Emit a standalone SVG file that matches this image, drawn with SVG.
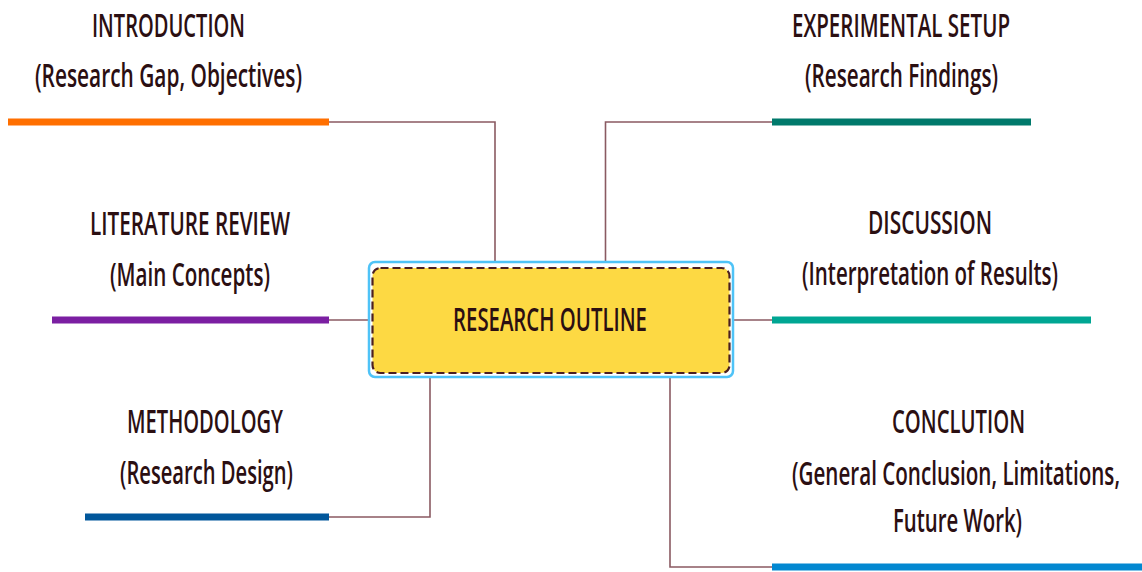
<svg xmlns="http://www.w3.org/2000/svg" width="1142" height="572" viewBox="0 0 1142 572">
  <style>
    .t { font-family: "Open Sans", "Liberation Sans", sans-serif; font-weight: 600; fill: #2b0f12; text-anchor: middle; font-size: 33px; }
    .bar { stroke-width: 7; fill: none; }
    .link { stroke: #8a5a62; stroke-width: 1.6; fill: none; }
  </style>
  <rect width="1142" height="572" fill="#ffffff"/>

  <!-- connectors -->
  <g id="connectors">
    <polyline class="link" points="329,122 495,122 495,262"/>
    <polyline class="link" points="772,122 605.5,122 605.5,262"/>
    <line class="link" x1="329" y1="320" x2="369" y2="320"/>
    <line class="link" x1="733" y1="320" x2="772" y2="320"/>
    <polyline class="link" points="329,517 430,517 430,378"/>
    <polyline class="link" points="772,567 670,567 670,378"/>
  </g>

  <!-- central topic; labels use a narrowed face via scale(x,1) -->
  <g id="research-outline">
    <rect x="369" y="262" width="364" height="115" rx="6" fill="#ffffff" stroke="#4fc3f7" stroke-width="2.5"/>
    <rect x="372.5" y="268" width="357" height="105" rx="8" fill="#fdd943" stroke="#4a1e22" stroke-width="2.2" stroke-dasharray="8 4"/>
    <text class="t" transform="translate(550,331) scale(0.7,1)" font-size="36" textLength="277" lengthAdjust="spacingAndGlyphs">RESEARCH OUTLINE</text>
  </g>

  <g id="introduction">
    <text class="t" transform="translate(168.5,37) scale(0.7,1)" textLength="218.6" lengthAdjust="spacingAndGlyphs">INTRODUCTION</text>
    <text class="t" transform="translate(168.5,87) scale(0.7,1)" textLength="381.4" lengthAdjust="spacingAndGlyphs">(Research Gap, Objectives)</text>
    <line class="bar" x1="8" y1="122" x2="329" y2="122" stroke="#ff6f00"/>
  </g>

  <g id="literature-review">
    <text class="t" transform="translate(190,235) scale(0.7,1)" textLength="285.7" lengthAdjust="spacingAndGlyphs">LITERATURE REVIEW</text>
    <text class="t" transform="translate(190,286) scale(0.7,1)" textLength="228.6" lengthAdjust="spacingAndGlyphs">(Main Concepts)</text>
    <line class="bar" x1="52" y1="320" x2="329" y2="320" stroke="#7b1fa2"/>
  </g>

  <g id="methodology">
    <text class="t" transform="translate(205,433) scale(0.7,1)" textLength="222.9" lengthAdjust="spacingAndGlyphs">METHODOLOGY</text>
    <text class="t" transform="translate(206.5,484) scale(0.7,1)" textLength="247.1" lengthAdjust="spacingAndGlyphs">(Research Design)</text>
    <line class="bar" x1="85" y1="517" x2="329" y2="517" stroke="#01579b"/>
  </g>

  <g id="experimental-setup">
    <text class="t" transform="translate(901,37) scale(0.7,1)" textLength="311.4" lengthAdjust="spacingAndGlyphs">EXPERIMENTAL SETUP</text>
    <text class="t" transform="translate(901.5,87) scale(0.7,1)" textLength="275.7" lengthAdjust="spacingAndGlyphs">(Research Findings)</text>
    <line class="bar" x1="772" y1="122" x2="1031" y2="122" stroke="#00796b"/>
  </g>

  <g id="discussion">
    <text class="t" transform="translate(930,234) scale(0.7,1)" textLength="177.1" lengthAdjust="spacingAndGlyphs">DISCUSSION</text>
    <text class="t" transform="translate(930,285) scale(0.7,1)" textLength="365.7" lengthAdjust="spacingAndGlyphs">(Interpretation of Results)</text>
    <line class="bar" x1="772" y1="320" x2="1091" y2="320" stroke="#00a693"/>
  </g>

  <g id="conclution">
    <text class="t" transform="translate(958.5,433) scale(0.7,1)" textLength="190" lengthAdjust="spacingAndGlyphs">CONCLUTION</text>
    <text class="t" transform="translate(956,485) scale(0.62,1)" textLength="529" lengthAdjust="spacingAndGlyphs">(General Conclusion, Limitations,</text>
    <text class="t" transform="translate(957.5,532) scale(0.7,1)" textLength="184.3" lengthAdjust="spacingAndGlyphs">Future Work)</text>
    <line class="bar" x1="772" y1="567" x2="1142" y2="567" stroke="#0288d1"/>
  </g>
</svg>
